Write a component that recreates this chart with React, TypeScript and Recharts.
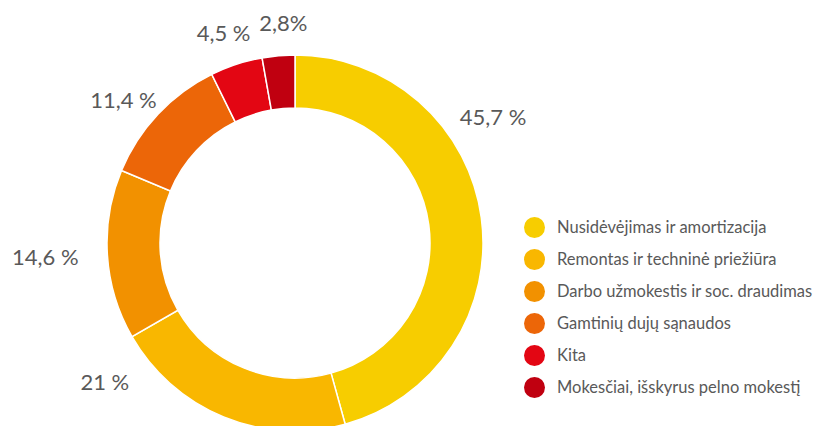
import React from "react";
import { PieChart, Pie, Cell, Legend } from "recharts";

const categories = [
  "Nusidėvėjimas ir amortizacija",
  "Remontas ir techninė priežiūra",
  "Darbo užmokestis ir soc. draudimas",
  "Gamtinių dujų sąnaudos",
  "Kita",
  "Mokesčiai, išskyrus pelno mokestį",
];
const shares = [45.7, 21, 14.6, 11.4, 4.5, 2.8];
const shareLabels = ["45,7 %", "21 %", "14,6 %", "11,4 %", "4,5 %", "2,8%"];
const colors = ["#F7CD00", "#F9B700", "#F29100", "#EC6608", "#E30613", "#C00010"];

// label placement tweaks (angle shift in degrees, distance from centre)
const labelNudges = [
  { da: 24.8, r: 235 },
  { da: -31.7, r: 235 },
  { da: -0.6, r: 250 },
  { da: 3.2, r: 224 },
  { da: 0.6, r: 222 },
  { da: -2, r: 221 },
];

const data = categories.map((name, i) => ({ name, value: shares[i] }));

const RADIAN = Math.PI / 180;
const TEXT = "#595959";
const FONT = "Lato, 'Open Sans', sans-serif";

const renderLabel = (props: any) => {
  const { cx, cy, midAngle, index } = props;
  const n = labelNudges[index];
  const a = (midAngle + n.da) * RADIAN;
  const x = cx + n.r * Math.cos(-a);
  const y = cy + n.r * Math.sin(-a);
  return (
    <text
      x={x}
      y={y}
      fill={TEXT}
      textAnchor="middle"
      dominantBaseline="central"
      fontSize={22}
      fontFamily={FONT}
    >
      {shareLabels[index]}
    </text>
  );
};

const LegendList = () => (
  <div style={{ fontFamily: FONT, color: TEXT, fontSize: 16.5 }}>
    {categories.map((c, i) => (
      <div key={c} style={{ display: "flex", alignItems: "center", height: 32 }}>
        <span
          style={{
            width: 21,
            height: 21,
            borderRadius: "50%",
            background: colors[i],
            marginRight: 12,
            flexShrink: 0,
          }}
        />
        <span style={{ whiteSpace: "nowrap" }}>{c}</span>
      </div>
    ))}
  </div>
);

export default function App() {
  return (
    <div style={{ position: "fixed", top: 0, left: 0, width: 817, height: 426, background: "#fff" }}>
      <PieChart width={817} height={426} margin={{ top: 0, right: 0, bottom: 0, left: 0 }}>
        <Pie
          data={data}
          dataKey="value"
          nameKey="name"
          cx={295}
          cy={243}
          innerRadius={135}
          outerRadius={188}
          startAngle={90}
          endAngle={-270}
          stroke="#fff"
          strokeWidth={1.5}
          label={renderLabel}
          labelLine={false}
          isAnimationActive={false}
        >
          {data.map((d, i) => (
            <Cell key={d.name} fill={colors[i]} />
          ))}
        </Pie>
        <Legend
          layout="vertical"
          content={() => <LegendList />}
          wrapperStyle={{ position: "absolute", left: 524, top: 211, width: 293 }}
        />
      </PieChart>
    </div>
  );
}
